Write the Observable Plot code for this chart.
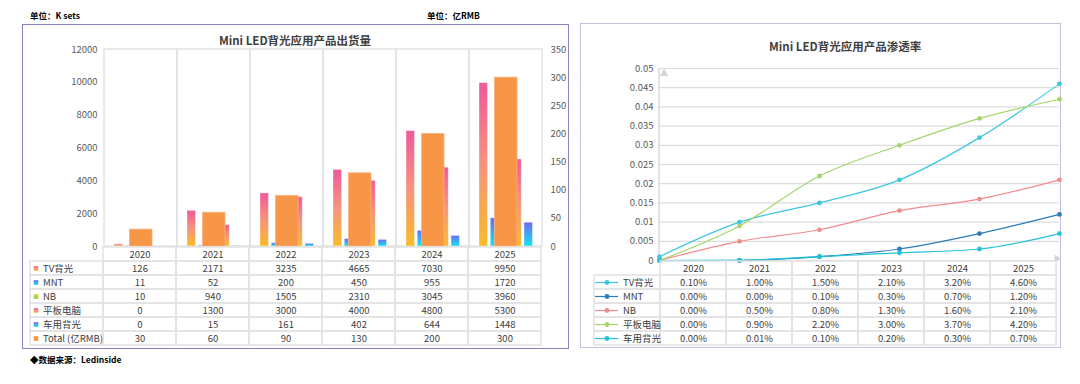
<!DOCTYPE html>
<html><head><meta charset="utf-8">
<script src="https://cdn.jsdelivr.net/npm/d3@7"></script>
<script src="https://cdn.jsdelivr.net/npm/@observablehq/plot@0.6"></script>
<style>
body{margin:0;background:#fff;font-family:"Noto Sans CJK SC","Noto Sans",sans-serif;}
#root{position:relative;width:1080px;height:384px;overflow:hidden;background:#fff;}
.abs{position:absolute;}
.hdr{font-size:8.5px;font-weight:bold;color:#000;white-space:nowrap;line-height:12px;}
.title{font-size:11.5px;font-weight:bold;color:#404040;white-space:nowrap;line-height:16px;}
.panel{box-sizing:border-box;}
svg{overflow:visible;}
</style></head><body><div id="root"></div>
<script>
// ---------- DATA ----------
const years = ["2020","2021","2022","2023","2024","2025"];
const shipSeries = ["TV背光","MNT","NB","平板电脑","车用背光"];
const tvShip  = [126, 2171, 3235, 4665, 7030, 9950];
const mntShip = [11, 52, 200, 450, 955, 1720];
const nbShip  = [10, 940, 1505, 2310, 3045, 3960];
const padShip = [0, 1300, 3000, 4000, 4800, 5300];
const carShip = [0, 15, 161, 402, 644, 1448];
const totalLabel = "Total (亿RMB)";
const totalRMB = [30, 60, 90, 130, 200, 300];
const leftTicks = [0, 2000, 4000, 6000, 8000, 10000, 12000];
const rightTicks = [0, 50, 100, 150, 200, 250, 300, 350];

const rateSeries = ["TV背光","MNT","NB","平板电脑","车用背光"];
const tvRate  = [0.001, 0.010, 0.015, 0.021, 0.032, 0.046];
const mntRate = [0.000, 0.000, 0.001, 0.003, 0.007, 0.012];
const nbRate  = [0.000, 0.005, 0.008, 0.013, 0.016, 0.021];
const padRate = [0.000, 0.009, 0.022, 0.030, 0.037, 0.042];
const carRate = [0.000, 0.0001, 0.001, 0.002, 0.003, 0.007];
const rateTicks = [0, 0.005, 0.01, 0.015, 0.02, 0.025, 0.03, 0.035, 0.04, 0.045, 0.05];

// ---------- STYLE ----------
const FONT = '"Noto Sans CJK SC","Noto Sans",sans-serif';
const shipFills = ["url(#gPink)","url(#gBlue)","url(#gGreen)","url(#gPink)","url(#gBlue)"];
const totalColor = "#f79646";
const rateColors = ["#3cc6e2","#2a7cb8","#f38b8b","#a2d66a","#22c2d8"];
const gridColor = "#e2e2e2";
const textColor = "#404040";

const root = document.getElementById("root");
function place(node, left, top) { node.style.position="absolute"; node.style.left=left+"px"; node.style.top=top+"px"; root.appendChild(node); return node; }
function div(cls, text, left, top) { const d=document.createElement("div"); d.className=cls; d.textContent=text; return place(d,left,top); }

// panels
const p1 = document.createElement("div"); p1.className="panel"; Object.assign(p1.style,{width:"547px",height:"325px",border:"1.5px solid #8b82bd"}); place(p1,22,24);
const p2 = document.createElement("div"); p2.className="panel"; Object.assign(p2.style,{width:"481px",height:"325px",border:"1px solid #c4c0df"}); place(p2,580,23);

div("hdr","单位：K sets",30,9);
div("hdr","单位：亿RMB",427,9);
div("hdr","◆数据来源：Ledinside",30,353);
const t1 = div("title","Mini LED背光应用产品出货量",0,32); t1.style.width="590px"; t1.style.textAlign="center";
const t2 = div("title","Mini LED背光应用产品渗透率",769,38);

const gradDefs = () => {
  const defs = d3.create("svg:defs");
  const mk = (id, stops) => {
    const g = defs.append("linearGradient").attr("id", id).attr("x1",0).attr("y1",0).attr("x2",0).attr("y2",1);
    stops.forEach(([o,c]) => g.append("stop").attr("offset",o).attr("stop-color",c));
  };
  mk("gPink", [["0%","#ee5a9b"],["50%","#f6937e"],["100%","#f9bb29"]]);
  mk("gBlue", [["0%","#6e6af6"],["100%","#18e3ef"]]);
  mk("gGreen", [["0%","#cde04a"],["100%","#9ccc2c"]]);
  return defs.node();
};

// ---------- LEFT CHART ----------
const shipValues = [tvShip, mntShip, nbShip, padShip, carShip];
const yMax = leftTicks[leftTicks.length-1];
const y2Max = rightTicks[rightTicks.length-1];
const k = yMax / y2Max;
const BW = 73.5, SLOT = 11.25, BARW = 9, FIRST = 10;
const barMarks = shipValues.map((vals, i) => {
  const insetLeft = FIRST + SLOT*i;
  return Plot.barY(years.map((yr,j)=>({year:yr, value:vals[j]})), {
    x:"year", y:"value", fill: shipFills[i], insetLeft, insetRight: BW - insetLeft - BARW,
    stroke: "#ffffff", strokeOpacity: 0.45, strokeWidth: 0.8
  });
});
const leftChart = Plot.plot({
  width: 547, height: 222, marginTop: 25, marginBottom: 0, marginLeft: 80, marginRight: 25,
  style: {fontFamily: FONT, fontSize: "9.5px", color: "#595959", background: "transparent"},
  x: {domain: years, padding: 0, axis: null},
  y: {domain: [0, yMax], axis: null},
  marks: [
    gradDefs,
    Plot.barY(years, {x: d=>d, y1: 0, y2: yMax, fill: "none", stroke: gridColor, strokeWidth: 1.5}),
    Plot.axisY(leftTicks, {anchor:"left", tickSize: 0, tickPadding: 5, label: null, tickFormat: d => String(d), fill:"#595959"}),
    Plot.axisY(rightTicks.map(v => v*k), {anchor:"right", tickSize: 0, tickPadding: 6, label: null, tickFormat: v => String(Math.round(v/k)), fill:"#595959"}),
    ...barMarks,
    Plot.barY(years.map((yr,j)=>({year:yr, value: totalRMB[j]*k})), {x:"year", y:"value", fill: totalColor, insetLeft: 25.5, insetRight: 25, stroke: "#f9b27c", strokeWidth: 0.8})
  ]
});
place(leftChart, 22, 24);

// ---------- LEFT TABLE ----------
const shipRows = [...shipSeries, totalLabel];
const shipRowVals = [...shipValues, totalRMB];
const leftRowFills = [...shipFills, totalColor];
const lCells = [];
years.forEach(yr => lCells.push({col: yr, row: "hdr", text: yr}));
shipRows.forEach((r,i) => {
  lCells.push({col: "cat", row: r, text: ""});
  years.forEach((yr,j) => lCells.push({col: yr, row: r, text: String(shipRowVals[i][j])}));
});
const lLabels = shipRows.map((r,i)=>({row:r, fill:leftRowFills[i]}));
const leftTable = Plot.plot({
  width: 547, height: 104, margin: 0,
  style: {fontFamily: FONT, fontSize: "9.5px", color: textColor, background: "transparent"},
  x: {domain: ["cat", ...years], range: [6.5, 521], padding: 0, axis: null},
  y: {domain: ["hdr", ...shipRows], range: [0, 100], padding: 0, axis: null},
  marks: [
    gradDefs,
    Plot.cell(lCells, {x:"col", y:"row", fill:"none", stroke: gridColor, strokeWidth: 1.5}),
    Plot.text(lCells, {x:"col", y:"row", text:"text", fill: textColor}),
    Plot.dot(lLabels, {x: () => "cat", y:"row", symbol:"square", r: 2.6, fill:"fill", dx: -31}),
    Plot.text(lLabels, {x: () => "cat", y:"row", text:"row", textAnchor:"start", dx: -24, fill: textColor})
  ]
});
place(leftTable, 22, 246);

// ---------- RIGHT CHART ----------
const rateValues = [tvRate, mntRate, nbRate, padRate, carRate];
const rateData = [];
rateSeries.forEach((s,i) => years.forEach((yr,j) => rateData.push({series:s, year:yr, value: rateValues[i][j]})));
const rMax = rateTicks[rateTicks.length-1];
const fmtRate = d => String(+d.toFixed(4));
const axisLine = (index, scales, values, dims) => {
  const g = d3.create("svg:g");
  g.append("line").attr("x1", dims.marginLeft).attr("x2", dims.marginLeft)
    .attr("y1", dims.marginTop).attr("y2", dims.height - dims.marginBottom)
    .attr("stroke", "#cfcfcf").attr("stroke-width", 1.2);
  return g.node();
};
const rightChart = Plot.plot({
  width: 481, height: 236, marginTop: 44, marginBottom: 0, marginLeft: 78, marginRight: 3,
  style: {fontFamily: FONT, fontSize: "9.5px", color: "#595959", background: "transparent"},
  x: {domain: years, padding: 0, axis: null},
  y: {domain: [0, rMax], axis: null},
  color: {domain: rateSeries, range: rateColors},
  marks: [
    Plot.gridY(rateTicks, {stroke: "#dcdcdc", strokeOpacity: 1, strokeWidth: 1.2}),
    axisLine,
    Plot.text(["▲"], {frameAnchor:"top-left", text: d=>d, fill:"#d6d6d6", fontSize: 9, dy: 1}),
    Plot.text(["▶"], {frameAnchor:"bottom-right", text: d=>d, fill:"#d6d6d6", fontSize: 8, dx: 2}),
    Plot.axisY(rateTicks, {anchor:"left", tickSize: 0, tickPadding: 6, label: null, tickFormat: fmtRate, fill:"#595959"}),
    Plot.line(rateData, {x:"year", y:"value", z:"series", stroke:"series", curve:"monotone-x", strokeWidth: 1.2}),
    Plot.dot(rateData, {x:"year", y:"value", fill:"series", r: 2.4})
  ]
});
place(rightChart, 581, 24);

// ---------- RIGHT TABLE ----------
const fmtPct = v => (v*100).toFixed(2) + "%";
const rCells = [];
years.forEach(yr => rCells.push({col: yr, row: "hdr", text: yr}));
rateSeries.forEach((s,i) => {
  rCells.push({col:"cat", row:s, text:""});
  years.forEach((yr,j) => rCells.push({col: yr, row: s, text: fmtPct(rateValues[i][j])}));
});
const rLabels = rateSeries.map(s => ({row: s}));
const rightTable = Plot.plot({
  width: 481, height: 88, margin: 0,
  style: {fontFamily: FONT, fontSize: "9.5px", color: textColor, background: "transparent"},
  x: {domain: ["cat", ...years], range: [11.5, 476.7], padding: 0, axis: null},
  y: {domain: ["hdr", ...rateSeries], range: [0, 86], padding: 0, axis: null},
  color: {domain: rateSeries, range: rateColors},
  marks: [
    Plot.cell(rCells, {x:"col", y:"row", fill:"none", stroke: gridColor, strokeWidth: 1.5}),
    Plot.text(rCells, {x:"col", y:"row", text:"text", fill: textColor}),
    Plot.tickY(rLabels, {x: () => "cat", y:"row", stroke:"row", insetLeft: 1, insetRight: 42, strokeWidth: 1.2}),
    Plot.dot(rLabels, {x: () => "cat", y:"row", fill:"row", r: 2.4, dx: -20.5}),
    Plot.text(rLabels, {x: () => "cat", y:"row", text:"row", textAnchor:"start", dx: -4.5, fill: textColor})
  ]
});
place(rightTable, 581, 260);
</script></body></html>
